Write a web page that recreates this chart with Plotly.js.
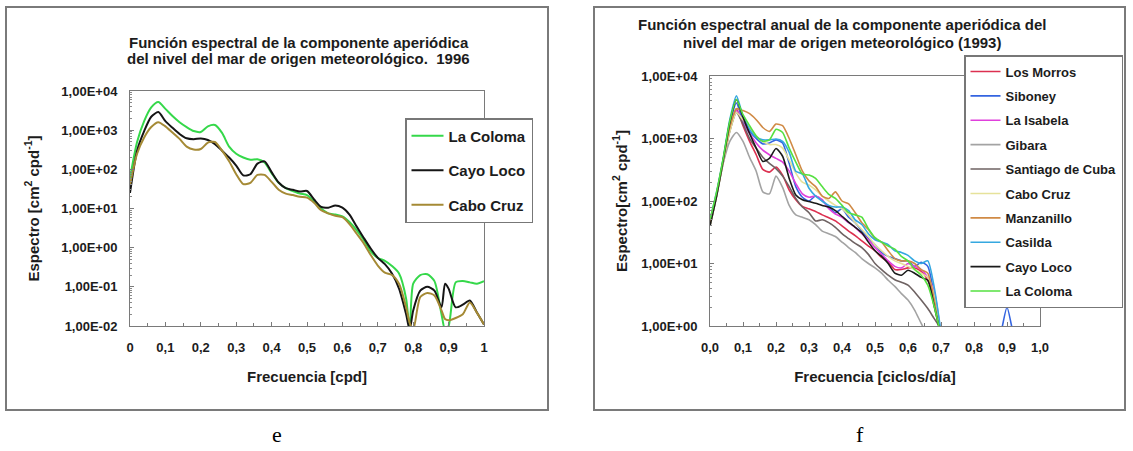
<!DOCTYPE html>
<html><head><meta charset="utf-8">
<script src="https://cdn.plot.ly/plotly-3.0.1.min.js"></script>
<style>html,body{margin:0;padding:0;background:#fff}#chart{width:1133px;height:451px}</style>
</head><body><div id="chart"></div><script>
// ---------- Panel e (1996) ----------
const freq1996 = [0,0.02,0.04,0.06,0.08,0.10,0.12,0.14,0.16,0.18,0.20,0.22,0.24,0.26,0.28,0.30,0.32,0.34,0.36,0.38,0.40,0.42,0.44,0.46,0.48,0.50,0.52,0.54,0.56,0.58,0.60,0.62,0.64,0.66,0.68,0.70,0.72,0.74,0.76,0.78,0.79,0.80,0.82,0.84,0.86,0.88,0.89,0.90,0.92,0.94,0.96,0.98,1.00];
const laColoma96 = [60,500,1700,3800,5200,3500,2300,1600,1200,950,900,1250,1350,850,380,250,200,175,180,150,80,45,33,28,24,22,15,10,7.5,7,6.3,4.5,2.8,1.6,0.8,0.55,0.46,0.34,0.22,0.05,0.008,0.12,0.2,0.21,0.14,0.02,0.008,0.01,0.13,0.14,0.13,0.12,0.14];
const cayoLoco96 = [25,300,950,2200,2900,1700,1150,800,620,590,610,560,440,300,200,125,70,75,140,160,85,46,33,30,27,28,17,11,10.5,12,10.5,7,3.5,1.8,0.95,0.55,0.38,0.22,0.09,0.02,0.008,0.025,0.08,0.1,0.08,0.03,0.12,0.09,0.03,0.035,0.045,0.022,0.011];
const caboCruz96 = [40,250,650,1200,1600,1250,870,600,380,320,330,480,500,300,160,75,42,45,72,72,48,30,24,22,20,19,14,9,7.5,6.5,6,4,2.3,1.3,0.65,0.35,0.23,0.2,0.12,0.03,0.012,0.008,0.055,0.07,0.06,0.025,0.015,0.014,0.016,0.02,0.04,0.022,0.011];
const series96Names = ['La Coloma','Cayo Loco','Cabo Cruz'];
const ticks96Y = ['1,00E-02','1,00E-01','1,00E+00','1,00E+01','1,00E+02','1,00E+03','1,00E+04'];

// ---------- Panel f (1993) ----------
const freq1993 = [0,0.02,0.04,0.06,0.08,0.10,0.12,0.14,0.16,0.18,0.20,0.22,0.24,0.26,0.28,0.30,0.32,0.34,0.36,0.38,0.40,0.42,0.44,0.46,0.48,0.50,0.52,0.54,0.56,0.58,0.60,0.62,0.64,0.66,0.68,0.70];
const losMorros = [45,130,450,1500,3000,1600,900,550,320,290,350,260,150,105,82,75,68,60,54,48,40,33,28,23,19,16,12.5,10.5,8,8,8.5,8.5,7.5,5.4,2.5,0.7];
const siboney = [45,130,450,1700,3700,1900,1300,1000,820,850,950,850,400,170,115,100,120,100,80,65,75,55,45,33,25,20,15,13,12,11,11,9,10.5,9,3,0.7];
const siboneyTailFreq = [0.74,0.86,0.88,0.90,0.92,0.94,1.00];
const siboneyTail = [0.3,0.3,0.7,2.0,0.7,0.3,0.3];
const laIsabela = [45,130,420,1400,2800,1800,1200,850,650,550,480,420,300,190,130,115,120,105,75,62,55,45,38,30,24,18,14,11,9,8.5,10,9,8,6,3.5,0.7];
const gibara = [40,120,400,900,1250,900,500,300,140,130,250,165,85,60,55,50,42,33,30,27,22,18,15,12,10,8.5,7,5.4,4.3,3.3,2.6,1.8,1.1,0.7,0.5,0.4];
const santiago = [40,120,420,1300,2600,1700,1000,700,500,400,330,250,170,110,80,65,48,50,45,38,30,25,21,18,14,10,8,6.5,5.5,5,4.5,3.5,2.6,1.9,1.3,0.9];
const caboCruz93 = [40,120,420,1300,2600,2000,1500,1100,900,800,800,700,450,280,200,180,150,120,100,85,75,60,45,35,27,20,16,13,11,10,9,8,7,6,3,0.7];
const manzanillo = [45,130,450,1500,3000,2800,2500,2000,1500,1300,1700,1600,1000,550,300,210,170,120,110,140,100,90,65,45,35,25,22,16,12,11,11,10,8,7,2.5,0.6];
const casilda = [50,140,480,2000,4800,2300,1400,1050,950,950,980,900,600,300,270,160,120,100,85,80,80,70,50,42,30,24,22,20,16,15,13.5,11,10,11,4,0.8];
const cayoLoco93 = [40,120,450,1800,4200,2200,1200,700,430,480,690,520,230,125,105,98,92,85,80,70,57,46,38,31,22,16,13,10,7,6.5,7.8,7,6,5.4,2,0.7];
const laColoma93 = [50,140,480,1900,4200,2400,1600,1100,900,950,1400,1250,700,420,270,260,230,170,128,110,85,65,60,55,36,26,22,19,17,13,11,8,6.5,4.5,2,0.7];
const ticks93Y = ['1,00E+00','1,00E+01','1,00E+02','1,00E+03','1,00E+04'];

// ---------- helpers ----------
const W = 1133, H = 451;
const fx = v => v / W, fy = v => 1 - v / H;
const FONT = 'Liberation Sans, Arial, sans-serif';
const TXT = '#1c1c1c';
function minorVals(lo, hi){ const a=[]; for(let k=lo;k<hi;k++){ for(let m=2;m<=9;m++) a.push(m*Math.pow(10,k)); } return a; }

const traces = [];
function addLeft(name, y, color, group){
  traces.push({x: freq1996, y: y, name: name, type:'scatter', mode:'lines', xaxis:'x', yaxis:'y',
    line:{color:color, width:2, shape:'spline', smoothing:0.7}, legend:'legend', legendgroup:group});
}
addLeft(series96Names[0], laColoma96, '#35d84a', 'a');
addLeft(series96Names[1], cayoLoco96, '#151515', 'b');
addLeft(series96Names[2], caboCruz96, '#a58a35', 'c');

function addRight(name, xs, y, color, i){
  traces.push({x: xs, y: y, name: name, type:'scatter', mode:'lines', xaxis:'x2', yaxis:'y2',
    line:{color:color, width:1.6, shape:'spline', smoothing:0.6}, legend:'legend2', legendgroup:'g'+i});
}
addRight('Los Morros', freq1993, losMorros, '#dc3050', 0);
addRight('Siboney', freq1993.concat(siboneyTailFreq), siboney.concat(siboneyTail), '#3464e0', 1);
addRight('La Isabela', freq1993, laIsabela, '#e040dc', 2);
addRight('Gibara', freq1993, gibara, '#a3a3a3', 3);
addRight('Santiago de Cuba', freq1993, santiago, '#6e6262', 4);
addRight('Cabo Cruz', freq1993, caboCruz93, '#e6e29a', 5);
addRight('Manzanillo', freq1993, manzanillo, '#d08a45', 6);
addRight('Casilda', freq1993, casilda, '#35a8e0', 7);
addRight('Cayo Loco', freq1993, cayoLoco93, '#1a1a1a', 8);
addRight('La Coloma', freq1993, laColoma93, '#55e040', 9);

const tickFont = {family:FONT, size:13, color:TXT, weight:'bold'};
const titleFont = {family:FONT, size:15, color:TXT, weight:'bold'};
const axCommon = {showgrid:false, zeroline:false, showline:true, linecolor:'#7a7a7a', linewidth:1, mirror:true,
  ticks:'inside', ticklen:4, tickcolor:'#7a7a7a', tickfont:tickFont, fixedrange:true};

const layout = {
  width: W, height: H, margin:{l:0,r:0,t:0,b:0}, paper_bgcolor:'#fff', plot_bgcolor:'#fff',
  separators: ',.', showlegend:true,
  xaxis: Object.assign({}, axCommon, {domain:[fx(130), fx(484)], range:[0,1], tick0:0, dtick:0.1,
    ticklabelstandoff:9, minor:{dtick:0.05, ticks:'inside', ticklen:3, tickcolor:'#7a7a7a'},
    title:{text:'Frecuencia [cpd]', font:titleFont, standoff:17}}),
  yaxis: Object.assign({}, axCommon, {domain:[fy(326), fy(91)], type:'log', range:[-2,4],
    tickmode:'array', tickvals:[0.01,0.1,1,10,100,1000,10000], ticktext:ticks96Y, ticklabelstandoff:9,
    minor:{tickmode:'array', tickvals:minorVals(-2,4), ticks:'inside', ticklen:2, tickcolor:'#8a8a8a'},
    title:{text:'Espectro [cm<sup>2</sup> cpd<sup>-1</sup>]', font:titleFont, standoff:18}}),
  xaxis2: Object.assign({}, axCommon, {domain:[fx(710), fx(1040)], range:[0,1], tick0:0, dtick:0.1, tickformat:'.1f',
    ticklabelstandoff:9, minor:{dtick:0.05, ticks:'inside', ticklen:3, tickcolor:'#7a7a7a'}, anchor:'y2',
    title:{text:'Frecuencia [ciclos/día]', font:titleFont, standoff:17}}),
  yaxis2: Object.assign({}, axCommon, {domain:[fy(326), fy(76)], type:'log', range:[0,4], anchor:'x2',
    tickmode:'array', tickvals:[1,10,100,1000,10000], ticktext:ticks93Y, ticklabelstandoff:9,
    minor:{tickmode:'array', tickvals:minorVals(0,4), ticks:'inside', ticklen:2, tickcolor:'#8a8a8a'},
    title:{text:'Espectro[cm<sup>2</sup> cpd<sup>-1</sup>]', font:titleFont, standoff:10}}),
  legend: {x:fx(405), y:fy(118), xanchor:'left', yanchor:'top', bgcolor:'#fff', bordercolor:'#777', borderwidth:1.5,
    font:{family:FONT, size:15, color:TXT, weight:'bold'}, tracegroupgap:12, traceorder:'grouped', itemwidth:32},
  legend2: {x:fx(964), y:fy(55), xanchor:'left', yanchor:'top', bgcolor:'#fff', bordercolor:'#777', borderwidth:1.5,
    font:{family:FONT, size:13, color:TXT, weight:'bold'}, tracegroupgap:4.5, traceorder:'grouped', itemwidth:30},
  shapes: [
    {type:'rect', xref:'paper', yref:'paper', x0:fx(6), x1:fx(548), y0:fy(410), y1:fy(7), line:{color:'#7a7a7a', width:2}, layer:'below'},
    {type:'rect', xref:'paper', yref:'paper', x0:fx(594), x1:fx(1125), y0:fy(410), y1:fy(7), line:{color:'#7a7a7a', width:2}, layer:'below'}
  ],
  annotations: [
    {xref:'paper', yref:'paper', x:fx(299), y:fy(42), xanchor:'center', yanchor:'middle', showarrow:false,
      text:'Función espectral de la componente aperiódica', font:titleFont},
    {xref:'paper', yref:'paper', x:fx(299), y:fy(58.5), xanchor:'center', yanchor:'middle', showarrow:false,
      text:'del nivel del mar de origen meteorológico.  1996', font:titleFont},
    {xref:'paper', yref:'paper', x:fx(842), y:fy(25), xanchor:'center', yanchor:'middle', showarrow:false,
      text:'Función espectral anual de la componente aperiódica del', font:titleFont},
    {xref:'paper', yref:'paper', x:fx(842), y:fy(42), xanchor:'center', yanchor:'middle', showarrow:false,
      text:'nivel del mar de origen meteorológico (1993)', font:titleFont},
    {xref:'paper', yref:'paper', x:fx(277), y:fy(434), xanchor:'center', yanchor:'middle', showarrow:false,
      text:'e', font:{family:'Liberation Serif, Times New Roman, serif', size:22, color:'#000'}},
    {xref:'paper', yref:'paper', x:fx(860), y:fy(434), xanchor:'center', yanchor:'middle', showarrow:false,
      text:'f', font:{family:'Liberation Serif, Times New Roman, serif', size:22, color:'#000'}}
  ]
};

Plotly.newPlot('chart', traces, layout, {displayModeBar:false, staticPlot:true});
</script></body></html>
